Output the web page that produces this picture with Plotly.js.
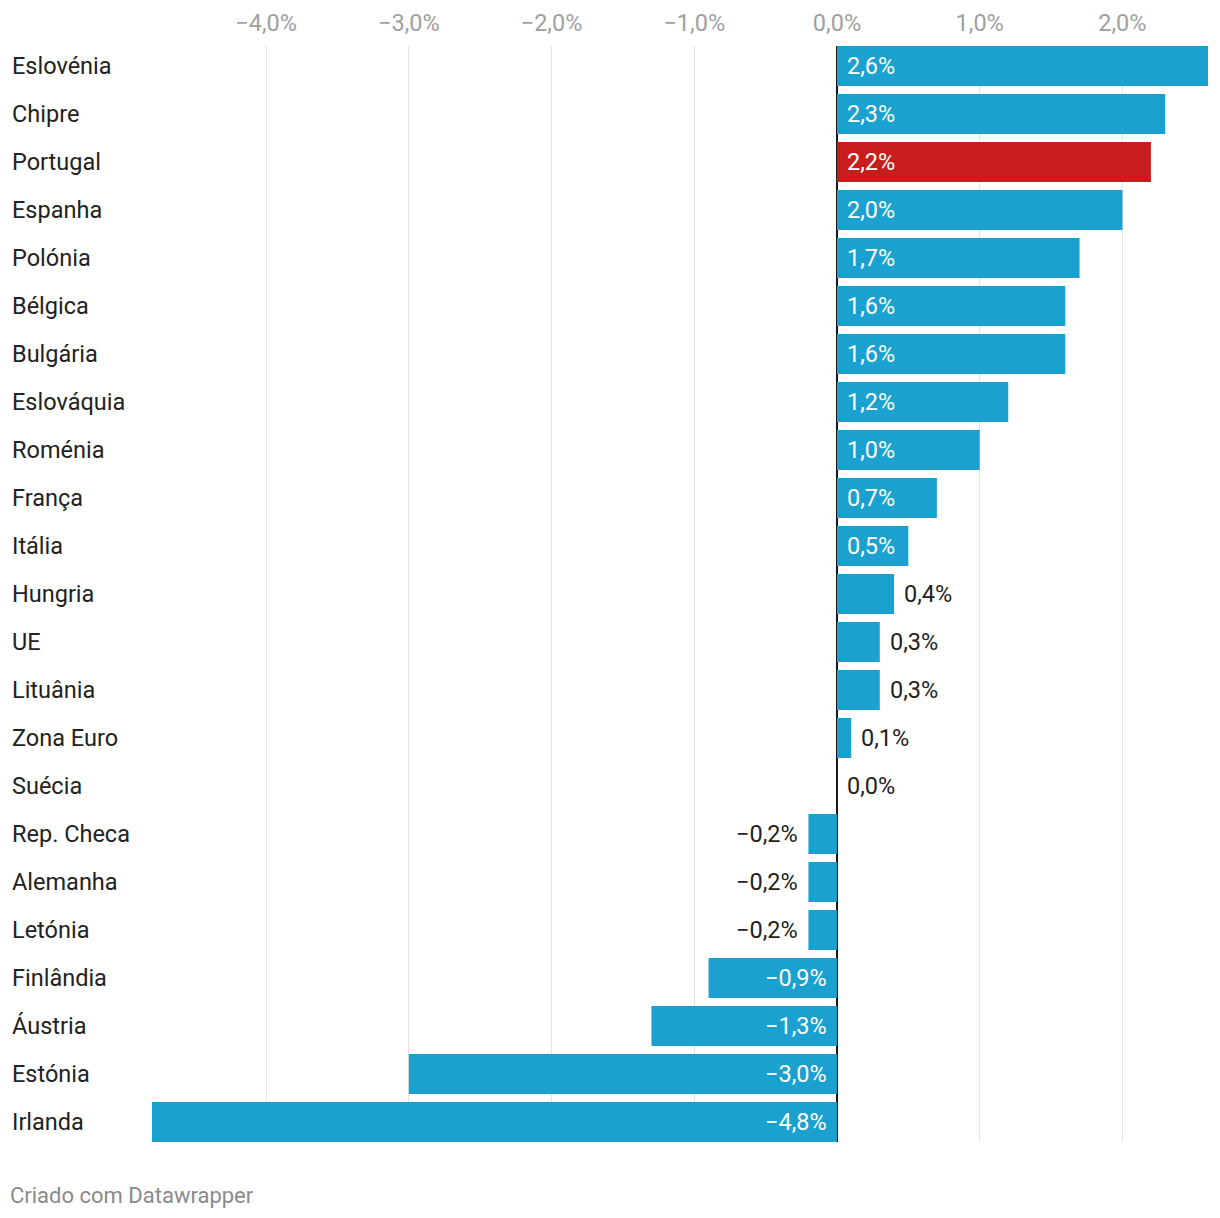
<!DOCTYPE html>
<html>
<head>
<meta charset="utf-8">
<script src="https://cdn.plot.ly/plotly-3.0.1.min.js"></script>
<style>
html,body{margin:0;padding:0;background:#fff;}
#chart{width:1220px;height:1218px;}
</style>
</head>
<body>
<div id="chart"></div>
<script>
const countries = ["Eslovénia","Chipre","Portugal","Espanha","Polónia","Bélgica","Bulgária","Eslováquia","Roménia","França","Itália","Hungria","UE","Lituânia","Zona Euro","Suécia","Rep. Checa","Alemanha","Letónia","Finlândia","Áustria","Estónia","Irlanda"];
const values = [2.6,2.3,2.2,2.0,1.7,1.6,1.6,1.2,1.0,0.7,0.5,0.4,0.3,0.3,0.1,0.0,-0.2,-0.2,-0.2,-0.9,-1.3,-3.0,-4.8];
const highlight = "Portugal";
const tickVals = [-4,-3,-2,-1,0,1,2];

const BLUE = "#1aa1cf", RED = "#c71e1d";
const colors = countries.map(c => c === highlight ? RED : BLUE);
const fmt = v => (v < 0 ? "\u2212" : "") + Math.abs(v).toFixed(1).replace(".", ",") + "%";
const tickText = tickVals.map(fmt);

const n = countries.length;
const half = 20/48;
const FS = 23.5;

const annotations = [];
values.forEach((v, i) => {
  const inside = Math.abs(v) >= 0.5;
  const a = {xref:"x", yref:"y", y: countries[i], text: fmt(v), showarrow:false,
           font:{family:"Roboto", size:FS, color: inside ? "#ffffff" : "#222222"}};
  a.x = inside ? 0 : v;
  if (v >= 0) { a.xanchor = "left"; a.xshift = 8; }
  else { a.xanchor = "right"; a.xshift = -8; }
  annotations.push(a);
  annotations.push({xref:"paper", yref:"y", x:0, xshift:-142, xanchor:"left", y: countries[i],
    text: countries[i], showarrow:false, font:{family:"Roboto", size:FS, color:"#222222"}});
});
annotations.push({xref:"paper", yref:"paper", x:0, xshift:-144, xanchor:"left", y:0, yshift:-53, yanchor:"middle",
  text:"Criado com Datawrapper", showarrow:false,
  font:{family:"Roboto", size:22, color:"#8a8a8a"}});

const trace = {
  type:"bar", orientation:"h", y: countries, x: values,
  marker:{color: colors, line:{width:0}}, hoverinfo:"none"
};

const layout = {
  width:1220, height:1218,
  margin:{l:152, r:12, t:46, b:76},
  paper_bgcolor:"#fff", plot_bgcolor:"#fff",
  separators:",.",
  bargap: 8/48,
  showlegend:false,
  xaxis:{
    side:"top", range:[-4.8, 2.6], tickmode:"array", tickvals: tickVals, ticktext: tickText,
    showgrid:true, gridcolor:"#e3e3e3", gridwidth:1,
    zeroline:true, zerolinecolor:"#1a1a1a", zerolinewidth:2,
    ticks:"", ticklabelstandoff:9,
    tickfont:{family:"Roboto", size:FS, color:"#a0a0a0"},
    fixedrange:true
  },
  yaxis:{
    type:"category", range:[n-1+half, -half], showticklabels:false, showgrid:false,
    zeroline:false, ticks:"", fixedrange:true
  },
  annotations: annotations
};

Plotly.newPlot("chart", [trace], layout, {displayModeBar:false, staticPlot:true});
</script>
</body>
</html>
